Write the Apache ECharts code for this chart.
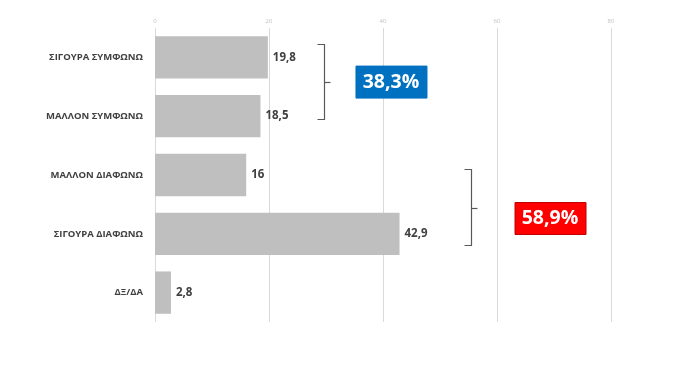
<!DOCTYPE html>
<html><head><meta charset="utf-8">
<script src="https://cdn.jsdelivr.net/npm/echarts@6/dist/echarts.min.js"></script>
<style>html,body{margin:0;padding:0;background:#fff}#c{width:695px;height:369px}</style>
</head><body><div id="c"></div>
<script>
const categories = ['ΣΙΓΟΥΡΑ ΣΥΜΦΩΝΩ','ΜΑΛΛΟΝ ΣΥΜΦΩΝΩ','ΜΑΛΛΟΝ ΔΙΑΦΩΝΩ','ΣΙΓΟΥΡΑ ΔΙΑΦΩΝΩ','ΔΞ/ΔΑ'];
const values = [19.8, 18.5, 16, 42.9, 2.8];
const xTicks = [0, 20, 40, 60, 80];
// annotation groups (positions in data units: x value, category index)
const groupTexts = ['38,3%', '58,9%'];
const bracketTop = [-0.22, 1.9];
const bracketBottom = [1.05, 3.19];
const bracketX = [29.6, 55.4];
const boxX = [41.4, 69.3];
const boxY = [0.42, 2.74];
const boxColors = ['#0070C0', '#FF0000'];

const chart = echarts.init(document.getElementById('c'), null, {renderer: 'canvas'});
const FONT = '"Open Sans", sans-serif';
chart.setOption({
  animation: false,
  grid: {left: 155, right: 84, top: 28, bottom: 47, containLabel: false},
  xAxis: {
    type: 'value', position: 'top', min: xTicks[0], max: xTicks[xTicks.length-1], interval: 20,
    axisLine: {show: false}, axisTick: {show: false},
    axisLabel: {fontSize: 6, color: '#bfbfbf', fontFamily: FONT, margin: 4},
    splitLine: {lineStyle: {color: '#d9d9d9', width: 1}}
  },
  yAxis: {
    type: 'category', data: categories, inverse: true,
    axisLine: {show: false}, axisTick: {show: false},
    axisLabel: {fontSize: 9.5, fontWeight: 'bold', color: '#404040', fontFamily: FONT, margin: 12}
  },
  series: [{
    type: 'bar', data: values, barCategoryGap: '28%',
    itemStyle: {color: '#bfbfbf'},
    label: {show: true, position: 'right', distance: 5, fontSize: 11.5, fontWeight: 'bold',
      color: '#404040', fontFamily: FONT,
      formatter: p => String(p.value).replace('.', ',')}
  }]
});

function px(xv, yc) {
  const a = Math.floor(yc), b = a + 1;
  const pa = chart.convertToPixel({gridIndex: 0}, [xv, a]);
  const pb = chart.convertToPixel({gridIndex: 0}, [xv, b]);
  const t = yc - a;
  return [pa[0], pa[1] + (pb[1] - pa[1]) * t];
}

const els = [];
groupTexts.forEach((txt, i) => {
  const top = px(bracketX[i], bracketTop[i]);
  const bot = px(bracketX[i], bracketBottom[i]);
  const y1 = Math.round(top[1]) + 0.5, y2 = Math.round(bot[1]) + 0.5;
  const x = Math.round(top[0]) + 0.5;
  const ym = Math.round((y1 + y2) / 2) + 0.5;
  els.push({type: 'polyline', shape: {points: [[x - 7, y1], [x, y1], [x, y2], [x - 7, y2]]},
    style: {stroke: '#595959', lineWidth: 1.2, fill: null}});
  els.push({type: 'line', shape: {x1: x, y1: ym, x2: x + 6, y2: ym},
    style: {stroke: '#595959', lineWidth: 1.2}});
  const c = px(boxX[i], boxY[i]);
  els.push({type: 'rect', shape: {x: c[0] - 35, y: c[1] - 16, width: 71, height: 32},
    style: {fill: boxColors[i], stroke: i === 1 ? '#C00000' : boxColors[i], lineWidth: 1}});
  els.push({type: 'text', x: c[0], y: c[1],
    style: {text: txt, fill: '#fff', fontSize: 19.5, fontWeight: 'bold', fontFamily: FONT,
      align: 'center', verticalAlign: 'middle'}});
});
chart.setOption({graphic: els});
</script></body></html>
